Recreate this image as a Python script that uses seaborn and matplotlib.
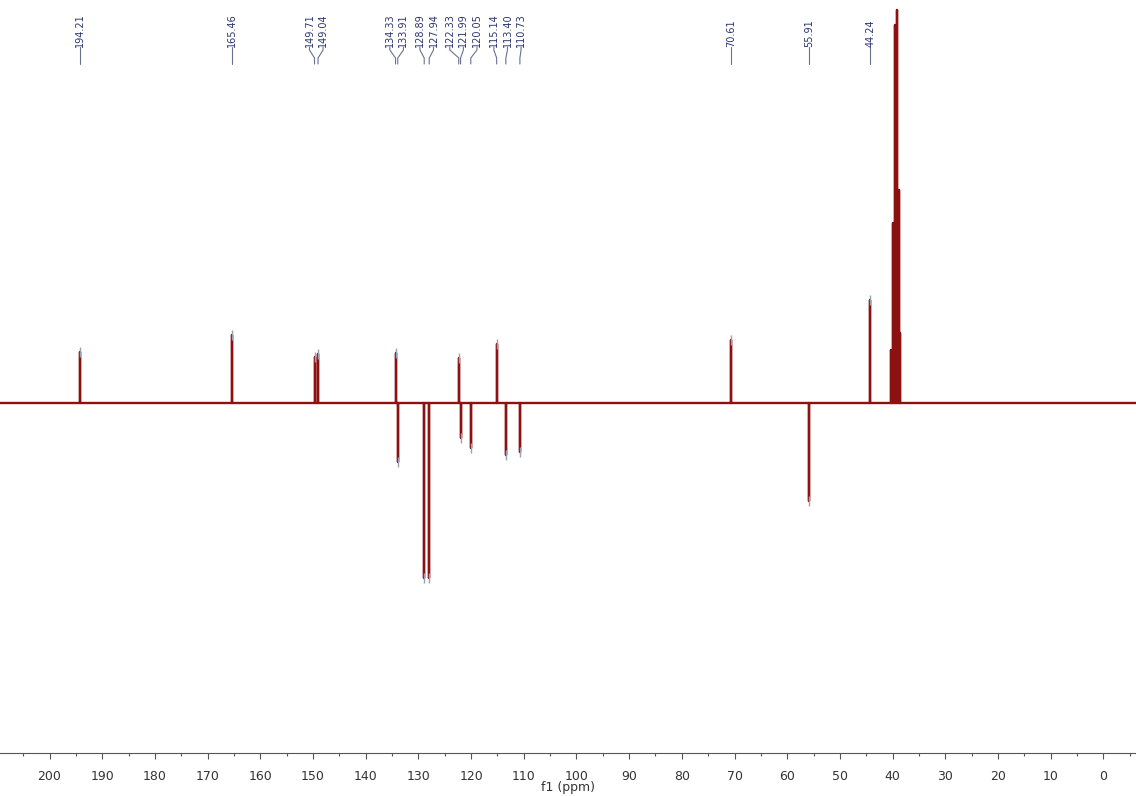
import numpy as np
import pandas as pd
import matplotlib
matplotlib.use('Agg')
import matplotlib.pyplot as plt
import matplotlib.transforms as mtransforms
from matplotlib.ticker import MultipleLocator
import seaborn as sns


# DATA (13C DEPT-135 style spectrum, picked peaks)

shifts = [194.21, 165.46, 149.71, 149.04, 134.33, 133.91, 128.89, 127.94,
          122.33, 121.99, 120.05, 115.14, 113.40, 110.73, 70.61, 55.91, 44.24]
intensities = [5.1, 6.8, 4.6, 4.9, 5.0, -5.9, -17.5, -17.5,
               4.5, -3.5, -4.5, 5.9, -5.2, -4.9, 6.3, -9.8, 10.3]

# solvent multiplet (DMSO-d6), not labelled
solvent_shifts = [40.25, 39.90, 39.55, 39.25, 38.85, 38.50]
solvent_intensities = [5.3, 18.0, 37.8, 39.3, 21.3, 7.0]

x_left, x_right = 209.4, -6.2

# STYLE

spec_color = '#8c1212'
label_color = '#2c3470'
conn_color = '#6a7090'


# FUNCTIONS

def spread_labels(peaks, gap):
    # peaks sorted high -> low ppm; push overlapping labels apart in groups
    groups = [[p] for p in peaks]

    def positions(g):
        c = np.mean(g)
        n = len(g)
        return [c + gap * ((n - 1) / 2 - i) for i in range(n)]

    merged = True
    while merged:
        merged = False
        for k in range(len(groups) - 1):
            if positions(groups[k])[-1] - positions(groups[k + 1])[0] < gap:
                groups[k] = groups[k] + groups[k + 1]
                del groups[k + 1]
                merged = True
                break
    out = []
    for g in groups:
        out += positions(g)
    return out


# build a stick spectrum table from the peak lists
all_peaks = sorted(list(zip(shifts, intensities)) + list(zip(solvent_shifts, solvent_intensities)),
                   key=lambda t: -t[0])
rows = [(x_left, 0.0)]
for p, h in all_peaks:
    rows += [(p, 0.0), (p, h), (p, 0.0)]
rows.append((x_right, 0.0))
spectrum_df = pd.DataFrame(rows, columns=['ppm', 'intensity'])

# PLOT

sns.set_style('white')
plt.rcParams['font.family'] = ['DejaVu Sans']

fig = plt.figure(figsize=(11.36, 7.96), dpi=100)
ax = fig.add_axes([0.0, 43 / 796, 1.0, 753 / 796])

sns.lineplot(data=spectrum_df, x='ppm', y='intensity', sort=False, estimator=None,
             color=spec_color, linewidth=1.7, ax=ax)

# peak pick markers at the tips
ax.plot(shifts, intensities, linestyle='none', marker='|', markersize=7,
        markeredgewidth=1.0, color='#9aa0b8', zorder=3)

ax.set_xlim(x_left, x_right)
ax.set_ylim(-35.0, 40.3)

# x axis
ax.xaxis.set_major_locator(MultipleLocator(10))
ax.xaxis.set_minor_locator(MultipleLocator(5))
ax.tick_params(axis='x', which='major', direction='out', length=4, width=0.8,
               color='#555555', labelsize=9, labelcolor='#333333', pad=8, bottom=True)
ax.tick_params(axis='x', which='minor', direction='out', length=2, width=0.8,
               color='#555555', bottom=True)
ax.set_xlabel('f1 (ppm)', fontsize=9, color='#333333', labelpad=-1)
ax.set_ylabel('')
ax.set_yticks([])
for side in ['top', 'left', 'right']:
    ax.spines[side].set_visible(False)
ax.spines['bottom'].set_color('#555555')
ax.spines['bottom'].set_linewidth(0.8)

# peak labels with connectors
trans = mtransforms.blended_transform_factory(ax.transData, ax.transAxes)
order = np.argsort(shifts)[::-1]
sorted_shifts = [shifts[i] for i in order]
label_pos = spread_labels(sorted_shifts, 2.58)

def frac(ypix):
    return (753 - ypix) / 753

for p, lx in zip(sorted_shifts, label_pos):
    ax.text(lx, frac(47), '%.2f' % p, rotation=90, ha='center', va='bottom',
            fontsize=7, color=label_color, transform=trans, clip_on=False)
    ax.plot([lx, lx, p, p], [frac(47), frac(50), frac(58), frac(64)],
            color=conn_color, linewidth=0.8, transform=trans, clip_on=False)

fig.savefig('out.png', dpi=100)
